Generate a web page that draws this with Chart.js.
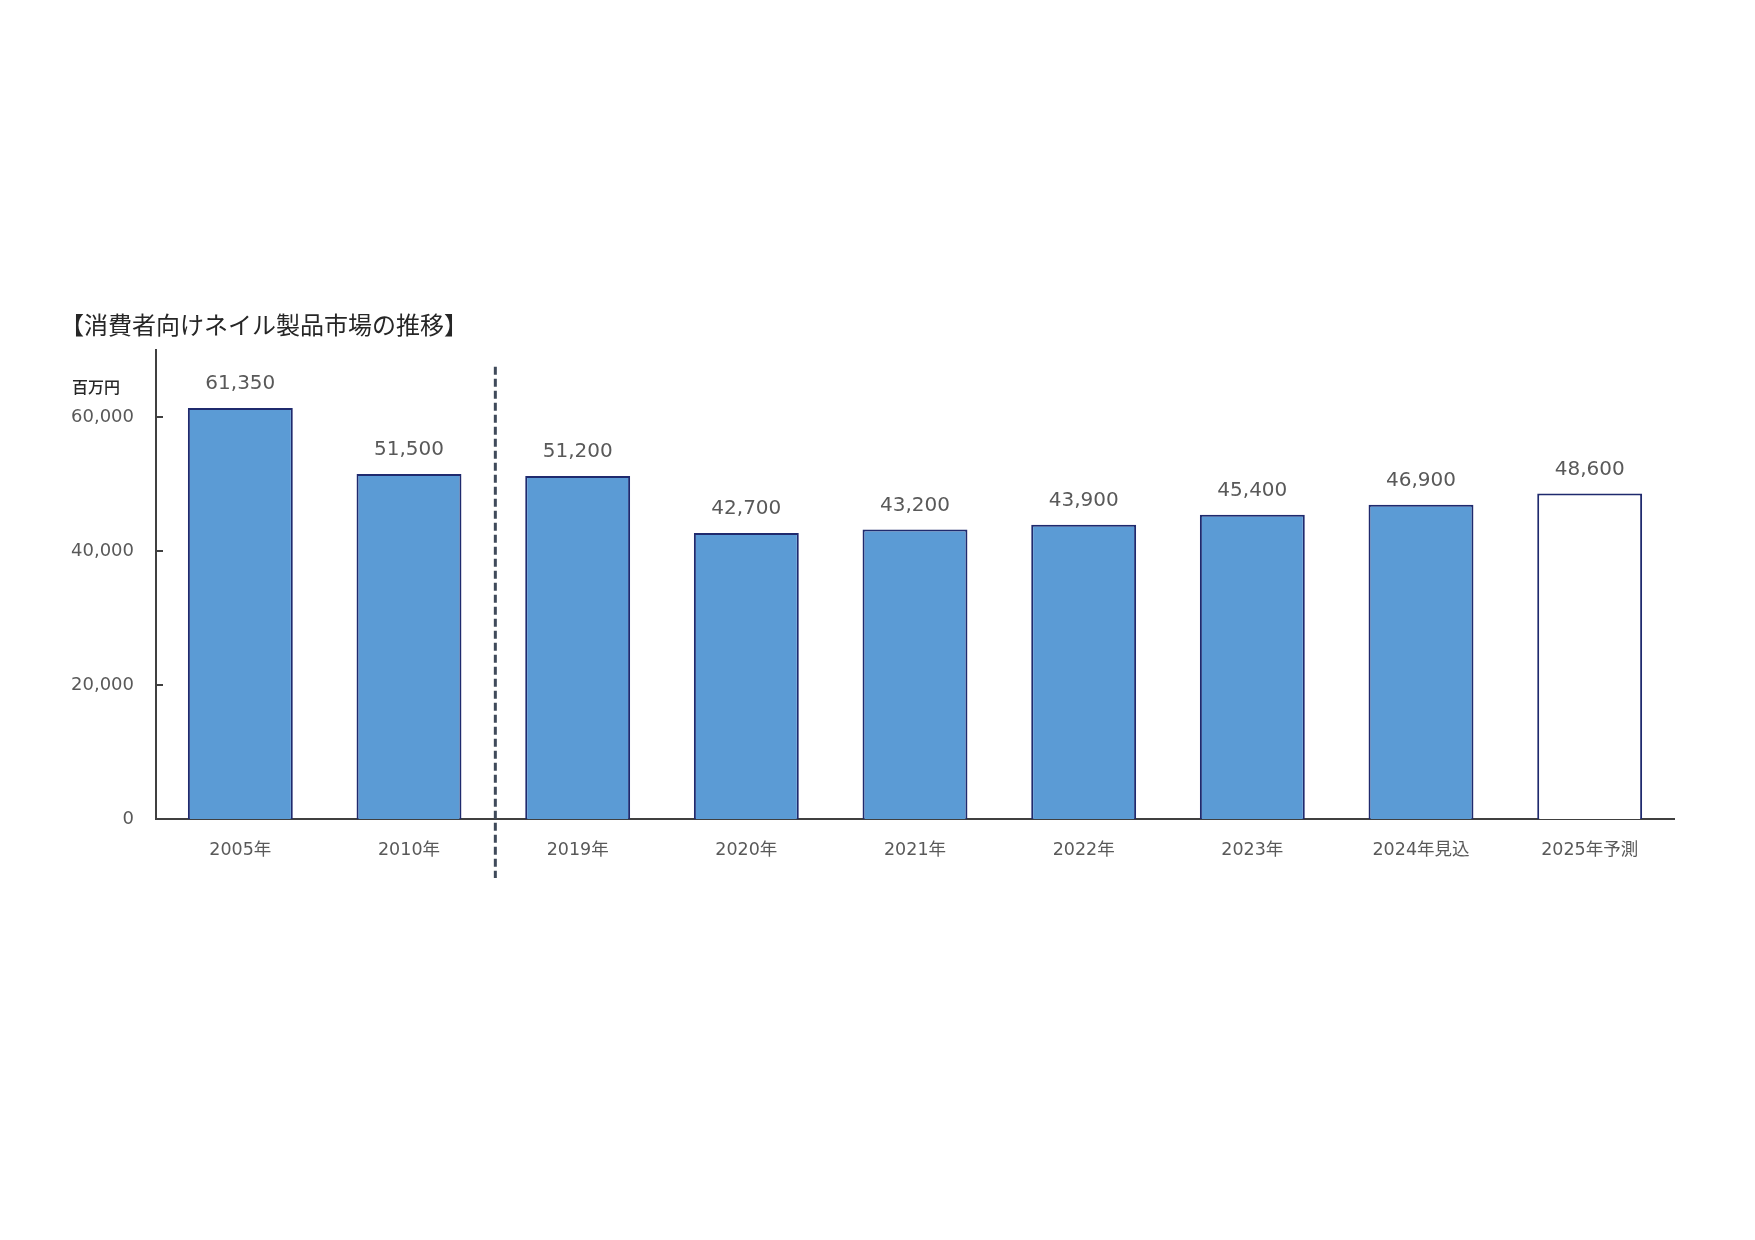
<!DOCTYPE html>
<html lang="ja">
<head>
<meta charset="utf-8">
<title>消費者向けネイル製品市場の推移</title>
<script src="https://cdn.jsdelivr.net/npm/chart.js@4.4.1/dist/chart.umd.min.js"></script>
<style>
  html, body { margin: 0; padding: 0; background: #fff; }
  #wrap { position: relative; width: 1755px; height: 1240px; }
  #title {
    position: absolute; left: 60px; top: 306px;
    font: 24px "Noto Sans CJK JP", sans-serif; color: #262626; white-space: nowrap;
  }
  #unit {
    position: absolute; left: 72px; top: 374px;
    font: 500 16px "Noto Sans CJK JP", sans-serif; color: #262626;
  }
</style>
</head>
<body>
<div id="wrap">
  <canvas id="cMarket" width="1755" height="1240"></canvas>
  <div id="title">【消費者向けネイル製品市場の推移】</div>
  <div id="unit">百万円</div>
</div>
<script>
// ── DATA ─────────────────────────────────────────────────────
const years  = ['2005年', '2010年', '2019年', '2020年', '2021年', '2022年', '2023年', '2024年見込', '2025年予測'];
const market = [61350, 51500, 51200, 42700, 43200, 43900, 45400, 46900, 48600];
const yTicks = [0, 20000, 40000, 60000];

// wide latin digits (Meiryo-like), CJK falls back to Noto
const FONT  = '"DejaVu Sans", "Noto Sans CJK JP", sans-serif';
const BLUE  = '#5b9bd5';
const NAVY  = '#1f2a6e';
const AXIS  = '#404040';
const TEXT2 = '#595959';

const fmt = v => v.toLocaleString('en-US');

// ── PLUGINS ──────────────────────────────────────────────────
// value labels above each bar
const valueLabels = {
  id: 'valueLabels',
  afterDatasetsDraw(chart) {
    const { ctx } = chart;
    const meta = chart.getDatasetMeta(0);
    ctx.save();
    ctx.font = `20px ${FONT}`;
    ctx.fillStyle = TEXT2;
    ctx.textAlign = 'center';
    ctx.textBaseline = 'middle';
    meta.data.forEach((bar, i) => ctx.fillText(fmt(market[i]), bar.x, bar.y - 24));
    ctx.restore();
  },
};

// inside tick marks on the y axis + dashed divider between 2010 and 2019
const axisExtras = {
  id: 'axisExtras',
  afterDraw(chart) {
    const { ctx, chartArea } = chart;
    const x = chart.scales.x, y = chart.scales.y;
    ctx.save();
    ctx.strokeStyle = AXIS;
    ctx.lineWidth = 2;
    yTicks.slice(1).forEach(v => {
      const py = y.getPixelForValue(v);
      ctx.beginPath();
      ctx.moveTo(chartArea.left, py);
      ctx.lineTo(chartArea.left + 7, py);
      ctx.stroke();
    });
    const dx = (x.getPixelForValue(1) + x.getPixelForValue(2)) / 2 + 2;
    ctx.strokeStyle = '#3f4a5a';
    ctx.lineWidth = 3;
    ctx.setLineDash([8, 4]);
    ctx.beginPath();
    ctx.moveTo(dx, y.getPixelForValue(67500));
    ctx.lineTo(dx, chartArea.bottom + 59);
    ctx.stroke();
    ctx.restore();
  },
};

// ── CHART ────────────────────────────────────────────────────
new Chart(document.getElementById('cMarket'), {
  type: 'bar',
  data: {
    labels: years,
    datasets: [{
      data: market,
      backgroundColor: market.map((v, i) => i === market.length - 1 ? '#ffffff' : BLUE),
      borderColor: NAVY,
      borderWidth: 2,
      categoryPercentage: 1,
      barPercentage: 0.622,
    }],
  },
  options: {
    responsive: false,
    animation: false,
    layout: { padding: { top: 350, right: 81, left: 0, bottom: 0 } },
    plugins: {
      legend:  { display: false },
      tooltip: { enabled: false },
    },
    scales: {
      x: {
        grid:   { display: false, drawTicks: false },
        border: { display: true, color: AXIS, width: 2 },
        ticks:  { color: TEXT2, font: { family: FONT, size: 17.5 }, padding: 21, maxRotation: 0 },
        afterFit: s => { s.height = 421; },
      },
      y: {
        min: 0,
        max: 70000,
        afterBuildTicks: s => { s.ticks = yTicks.map(v => ({ value: v })); },
        grid:   { display: false, drawTicks: false },
        border: { display: true, color: AXIS, width: 2 },
        ticks:  { color: TEXT2, font: { family: FONT, size: 18 }, padding: 22, callback: v => fmt(v) },
        afterFit: s => { s.width = 156; },
      },
    },
  },
  plugins: [valueLabels, axisExtras],
});
</script>
</body>
</html>
